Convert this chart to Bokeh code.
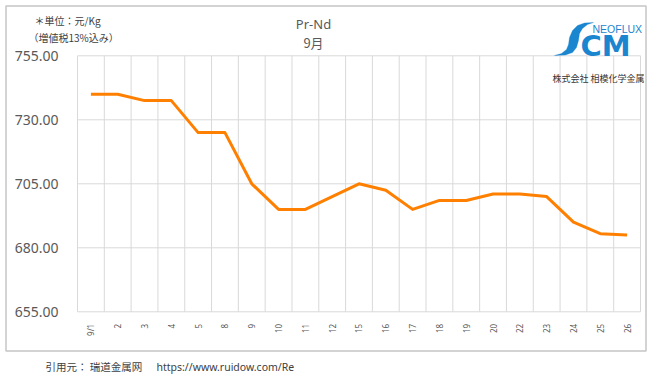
from bokeh.plotting import figure
from bokeh.models import (FixedTicker, Range1d, Label, BoxAnnotation, PolyAnnotation,
                          LinearAxis)
from bokeh.embed import file_html
from bokeh.resources import INLINE
import math

# ---- data ----
dates = ["9/1", "2", "3", "4", "5", "8", "9", "10", "11", "12", "15", "16",
         "17", "18", "19", "20", "22", "23", "24", "25", "26"]
prices = [740, 740, 737.5, 737.5, 725, 725, 705, 695, 695, 700, 705, 702.5,
          695, 698.5, 698.5, 701, 701, 700, 690, 685.5, 685]
y_ticks = [655, 680, 705, 730, 755]
title_lines = ["Pr-Nd", "9月"]
unit_lines = ["＊単位：元/Kg", "（増値税13%込み）"]
source_text = "引用元： 瑞道金属网"
source_url = "https://www.ruidow.com/Re"
logo_top = "NEOFLUX"
logo_main = "CM"
logo_company = "株式会社 相模化学金属"

# ---- layout (pixels) ----
W, H = 647, 375
PL, PR, PT, PB = 77, 640, 55.3, 311.3   # chart area in canvas pixels

n = len(dates)
xs = list(range(n))
x_lo_d, x_hi_d = -0.5, n - 0.5
y_lo_d, y_hi_d = min(y_ticks), max(y_ticks)
kx = (PR - PL) / (x_hi_d - x_lo_d)
ky = (PB - PT) / (y_hi_d - y_lo_d)
x_range = Range1d(x_lo_d - PL / kx, x_hi_d + (W - PR) / kx)
y_range = Range1d(y_lo_d - (H - PB) / ky, y_hi_d + PT / ky)

p = figure(width=W, height=H, output_backend="svg", toolbar_location=None,
           x_range=x_range, y_range=y_range,
           x_axis_location=None, y_axis_location=None,
           min_border=0, min_border_left=0, min_border_right=0,
           min_border_top=0, min_border_bottom=0)
p.outline_line_color = None
p.xgrid.visible = False
p.ygrid.visible = False
p.background_fill_color = "white"
p.border_fill_color = "white"

grid_col = "#d9d9d9"
# horizontal grid lines at the y ticks
p.segment(x0=[x_lo_d] * len(y_ticks), x1=[x_hi_d] * len(y_ticks),
          y0=y_ticks, y1=y_ticks, line_color=grid_col, line_width=1)
# vertical grid lines at category boundaries
bnds = [i - 0.5 for i in range(n + 1)]
p.segment(x0=bnds, x1=bnds, y0=[y_lo_d] * len(bnds), y1=[y_hi_d] * len(bnds),
          line_color=grid_col, line_width=1)

p.line(xs, prices, line_color="#ff8000", line_width=3, line_join="round")

# axes (positioned at the chart edges)
xaxis = LinearAxis(fixed_location=y_lo_d, bounds=(x_lo_d, x_hi_d),
                   ticker=FixedTicker(ticks=xs),
                   major_label_overrides={i: d for i, d in enumerate(dates)},
                   major_label_orientation=math.pi / 2,
                   major_label_text_font_size="8px",
                   major_label_text_color="#595959",
                   major_label_text_font="Noto Sans",
                   axis_line_color=None, major_tick_line_color=None,
                   minor_tick_line_color=None, major_label_standoff=6)
p.add_layout(xaxis, "below")

yaxis = LinearAxis(fixed_location=x_lo_d, bounds=(y_lo_d, y_hi_d),
                   ticker=FixedTicker(ticks=y_ticks),
                   major_label_overrides={v: f"{v:.2f}" for v in y_ticks},
                   major_label_text_font_size="14px",
                   major_label_text_color="#595959",
                   major_label_text_font="Noto Sans",
                   axis_line_color=None, major_tick_line_color=None,
                   minor_tick_line_color=None, major_label_standoff=13)
p.add_layout(yaxis, "left")


def lab(text, x, y, size="11px", color="#404040", font="Noto Sans CJK JP",
        align="left", style="normal"):
    p.add_layout(Label(x=x, y=y, x_units="canvas", y_units="canvas",
                       text=text, text_font_size=size, text_color=color,
                       text_font=font, text_align=align, text_baseline="middle",
                       text_font_style=style))


# frame around chart
p.add_layout(BoxAnnotation(left=5.5, right=645.5, top=5.5, bottom=350.5,
                           left_units="canvas", right_units="canvas",
                           top_units="canvas", bottom_units="canvas",
                           fill_alpha=0, line_color="#404040", line_width=1.5))

# unit notes
lab(unit_lines[0], 34, 20, size="10px")
lab(unit_lines[1], 28, 37, size="10px")

# title
lab(title_lines[0], 313, 23, size="13px", color="#595959", font="Noto Sans", align="center")
lab(title_lines[1], 313, 42, size="13px", color="#595959", font="Noto Sans CJK JP", align="center")

# logo
blue = "#1a86cf"
swoosh_x = [593, 584, 577, 572, 569, 568, 566, 561, 554,
            565, 572, 576, 578, 579, 582, 587]
swoosh_y = [22, 22.5, 25, 30, 37, 44, 49, 53, 55,
            54.5, 52, 47, 40, 33, 28, 24]
p.add_layout(PolyAnnotation(xs=swoosh_x, ys=swoosh_y,
                            xs_units="canvas", ys_units="canvas",
                            fill_color=blue, fill_alpha=1, line_color=blue))
lab(logo_top, 592, 28, size="10.5px", color=blue, font="Liberation Sans")
lab(logo_main, 580, 45, size="29px", color=blue, font="DejaVu Sans", style="bold")
lab(logo_company, 598, 78, size="9px", color="#333333", align="center")

# footer
lab(source_text, 45, 366, size="10.5px")
lab(source_url, 156, 366, size="10.5px", font="Noto Sans")

open("out.html", "w").write(file_html(p, INLINE))
